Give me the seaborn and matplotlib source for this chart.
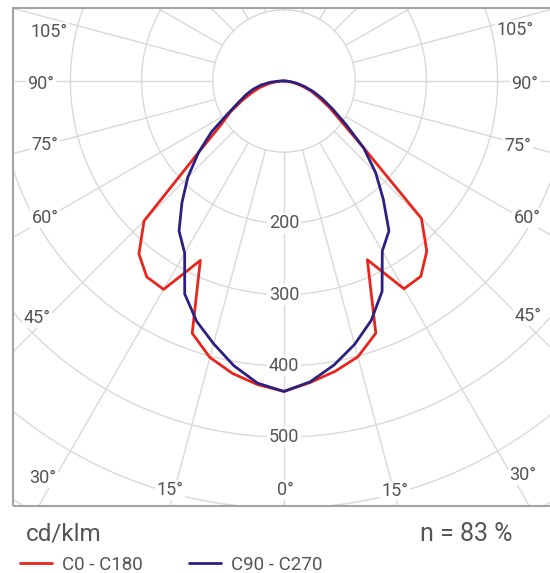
import numpy as np
import pandas as pd
import matplotlib
matplotlib.use('Agg')
import matplotlib.pyplot as plt
from matplotlib.patches import Rectangle
import seaborn as sns

# luminous intensity (cd/klm) every 5 degrees of gamma
gamma = [0, 5, 10, 15, 20, 25, 30, 35, 40, 45, 50, 55, 60, 65, 70, 75, 80, 85, 90, 180]
c0 = [436, 425, 414, 401, 377, 277, 337, 335, 312, 273, 146, 97, 73, 53, 40, 25, 15, 7, 2, 0]
c180 = [436, 428, 417, 402, 377, 278, 338, 336, 317, 278, 158, 109, 87, 65, 48, 35, 22, 11, 3, 0]
c90 = [436, 424, 405, 383, 358, 326, 276, 257, 217, 182, 146, 106, 79, 60, 44, 30, 18, 8, 2, 0]
c270 = [436, 426, 406, 382, 359, 330, 279, 257, 223, 191, 157, 124, 90, 70, 57, 45, 33, 19, 5, 0]

series_names = ["C0 - C180", "C90 - C270"]
radial_ticks = [200, 300, 400, 500]
angle_labels = ["105°", "90°", "75°", "60°", "45°", "30°", "15°", "0°",
                "15°", "30°", "45°", "60°", "75°", "90°", "105°"]
unit_label = "cd/klm"
efficiency_label = "n = 83 %"

# layout (pixels)
W, H = 550, 573
CX, CY = 284, 81          # pole of the diagram
PX = 0.712                # pixels per cd/klm
RMAX = 720
angle_pos = [(49, 32), (41, 84), (45, 145), (45, 218), (37, 318), (43, 478), (170, 490), (285, 490),
             (395, 491), (523, 475), (528, 316), (527, 218), (518, 146), (525, 84), (515, 30)]

GRID = "#d9d9d9"
TXT = "#555555"
RED = "#e8261c"
BLUE = "#2b2183"

sns.set_style("white")
plt.rcParams['font.family'] = ['Roboto', 'DejaVu Sans']


def half_plane(left, right, name):
    g = np.radians(gamma)
    theta = np.concatenate([-g[::-1], g])
    r = np.concatenate([left[::-1], right])
    return pd.DataFrame({"theta": theta, "r": r, "series": name})


df = pd.concat([half_plane(c180, c0, series_names[0]),
                half_plane(c270, c90, series_names[1])])

fig = plt.figure(figsize=(W / 100, H / 100), dpi=100)
R = RMAX * PX
ax = fig.add_axes([(CX - R) / W, (H - CY - R) / H, 2 * R / W, 2 * R / H], projection='polar')
ax.set_theta_zero_location('S')
ax.set_ylim(0, RMAX)
ax.grid(False)
ax.set_xticks([])
ax.set_yticks([])
ax.spines['polar'].set_visible(False)

# grid: circles every 100 and radial lines every 15 degrees outside the inner circle
full = np.linspace(0, 2 * np.pi, 721)
for rr in range(100, RMAX + 1, 100):
    ax.plot(full, np.full_like(full, rr), color=GRID, lw=1, zorder=1)
for a in range(0, 360, 15):
    ax.plot([np.radians(a)] * 2, [100, RMAX], color=GRID, lw=1, zorder=1)

sns.lineplot(data=df, x="theta", y="r", hue="series", palette=[RED, BLUE],
             sort=False, estimator=None, lw=2, ax=ax, zorder=3)
ax.set_xlabel("")
ax.set_ylabel("")
handles, labels = ax.get_legend_handles_labels()
ax.get_legend().remove()

for v in radial_ticks:
    ax.text(0, v, str(v), ha='center', va='center', fontsize=13, color=TXT, zorder=2,
            bbox=dict(facecolor='white', edgecolor='none', pad=1))

# white masks outside the frame, then the frame
for x0, y0, w, h in [(0, 0, W, H - 506), (0, 0, 13, H), (0, H - 8, W, 8)]:
    fig.patches.append(Rectangle((x0 / W, y0 / H), w / W, h / H, transform=fig.transFigure,
                                 facecolor='white', edgecolor='none', zorder=1))
fig.patches.append(Rectangle((13 / W, (H - 506) / H), (W + 5 - 13) / W, (506 - 8) / H,
                             transform=fig.transFigure, fill=False, edgecolor='#a3a3a3',
                             lw=1.5, zorder=2))

for lab, (px, py) in zip(angle_labels, angle_pos):
    fig.text(px / W, 1 - py / H, lab, ha='center', va='center', fontsize=13, color=TXT,
             bbox=dict(facecolor='white', edgecolor='none', pad=1), zorder=3)

fig.text(26 / W, 1 - 534 / H, unit_label, ha='left', va='center', fontsize=17.5, color=TXT)
fig.text(512 / W, 1 - 534 / H, efficiency_label, ha='right', va='center', fontsize=18, color=TXT)

leg = fig.legend(handles, labels, loc='center left', bbox_to_anchor=(20 / W, 1 - 565 / H),
                 ncol=2, frameon=False, fontsize=13.5, handlelength=1.7, handletextpad=0.55,
                 columnspacing=2.45, borderpad=0, borderaxespad=0, labelcolor=TXT)
for line in leg.get_lines():
    line.set_linewidth(2)

fig.savefig("out.png", dpi=100)
